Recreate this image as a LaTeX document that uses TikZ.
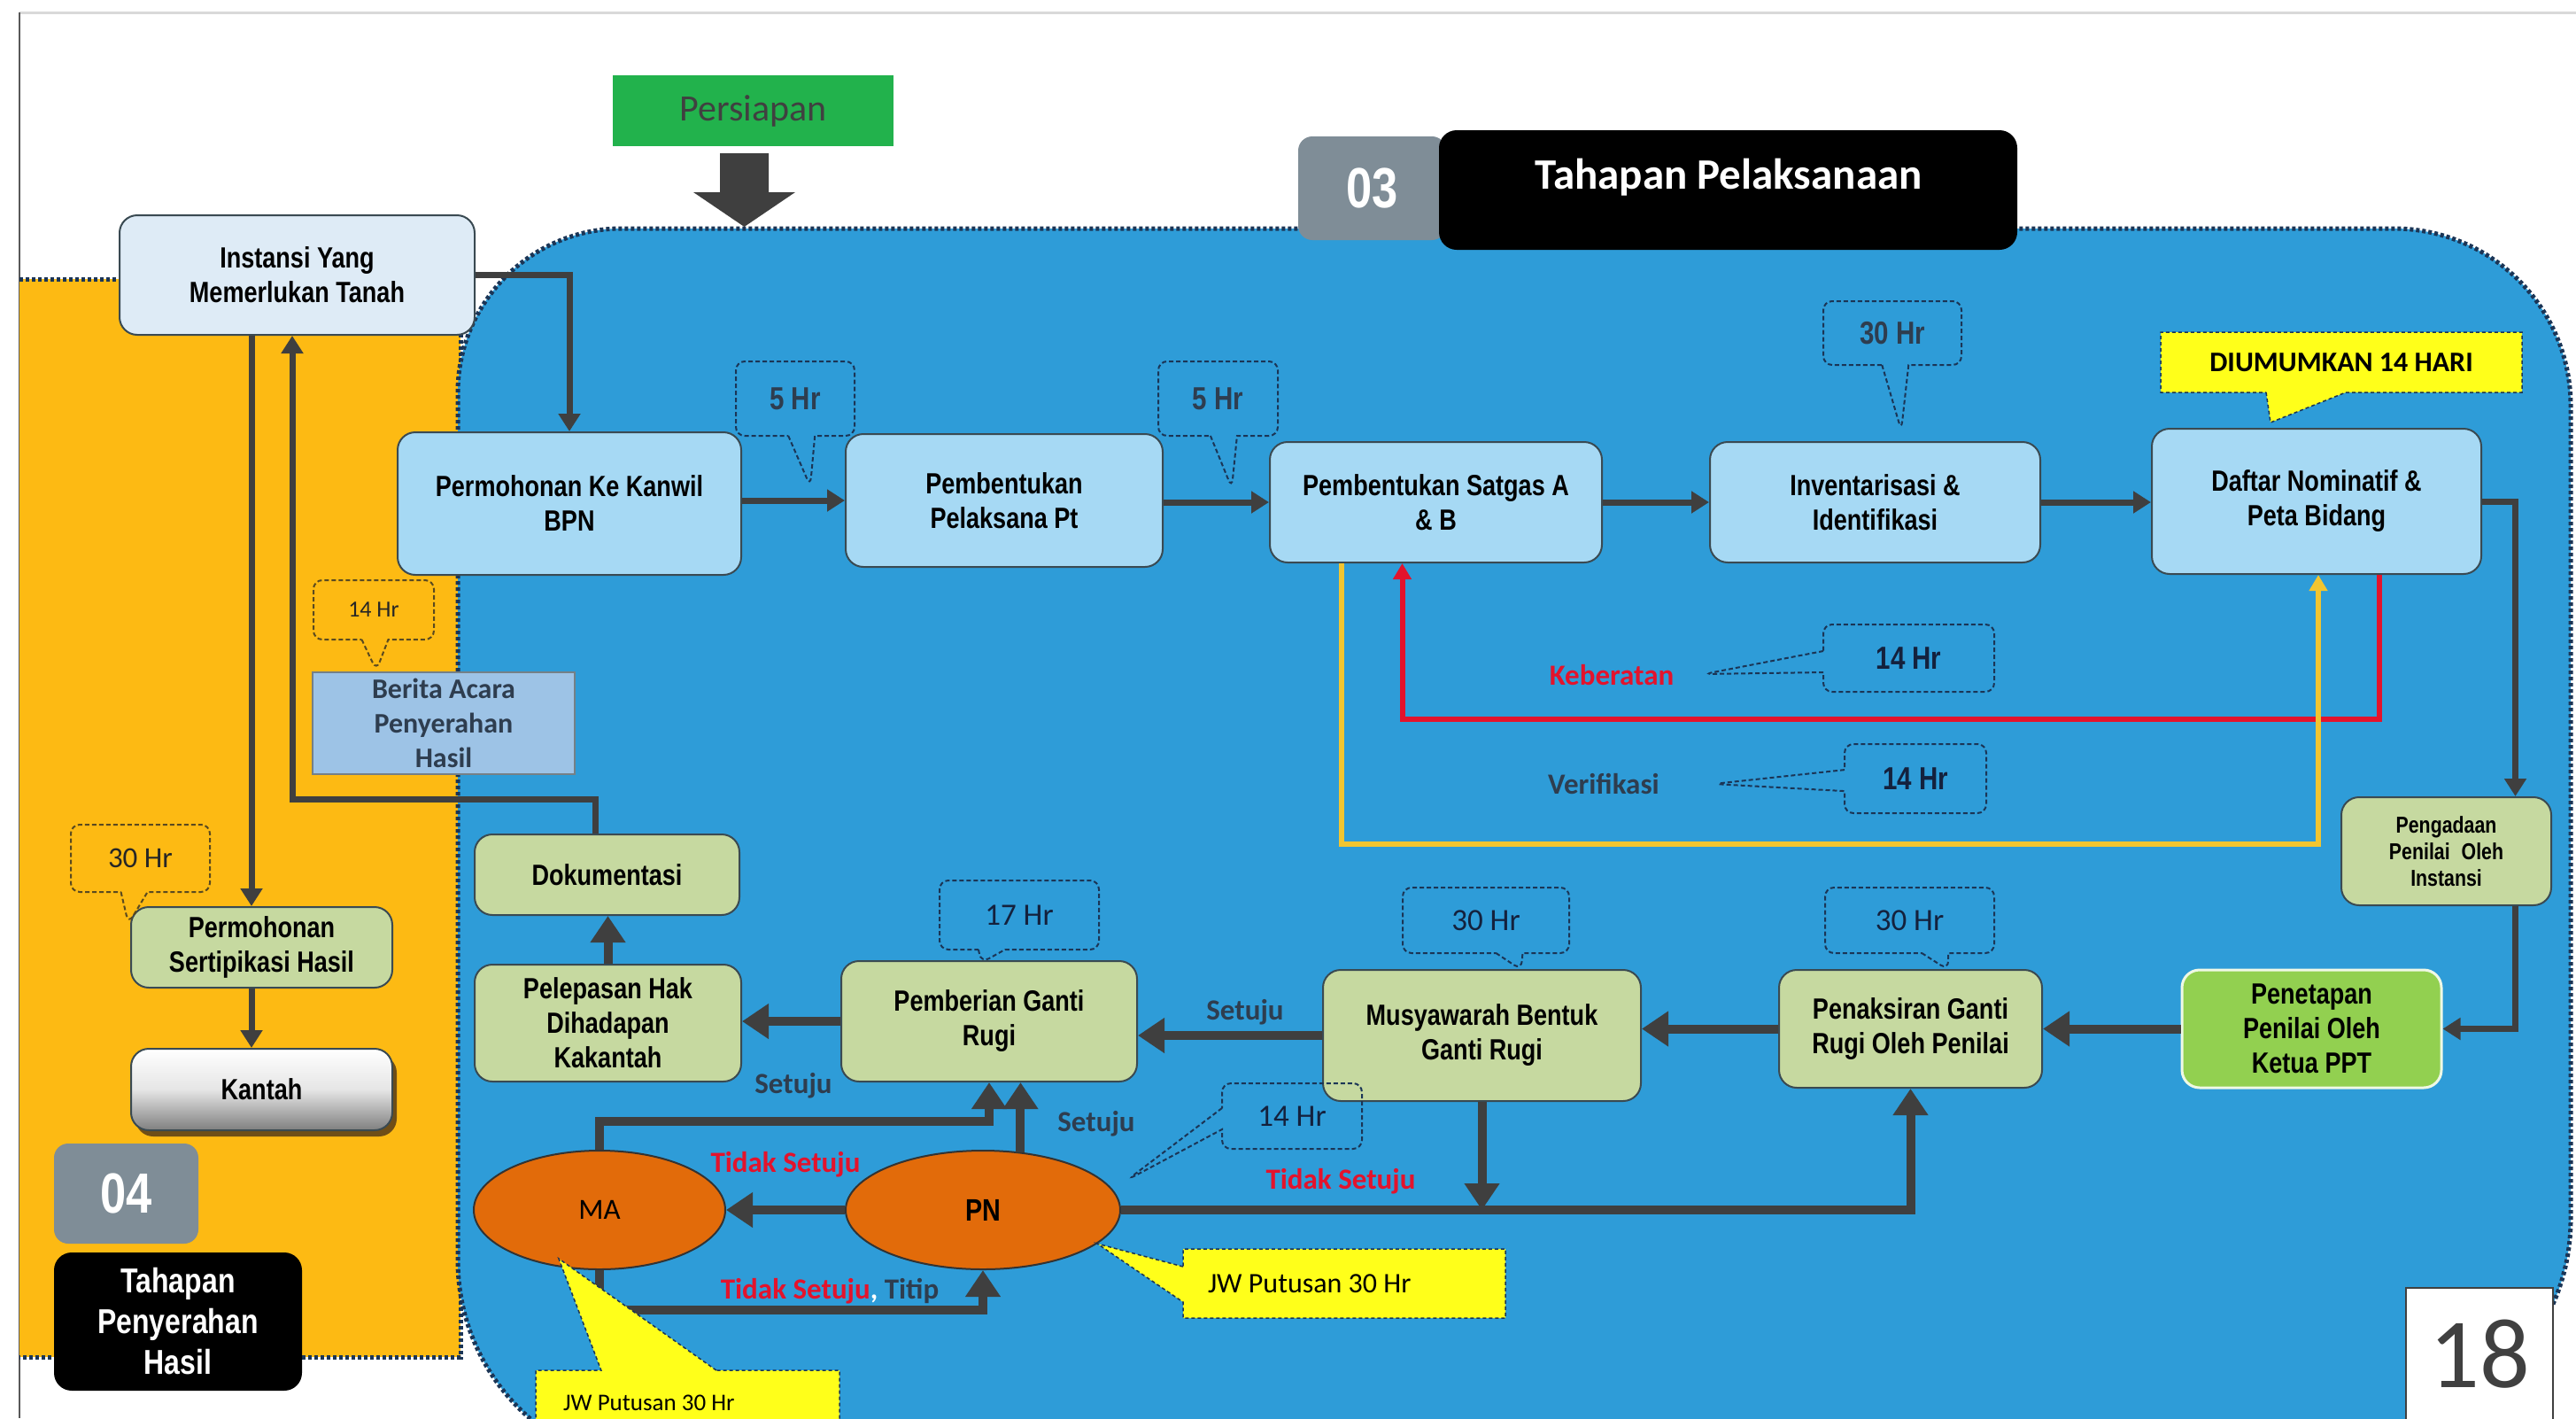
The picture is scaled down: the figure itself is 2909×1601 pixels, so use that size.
\documentclass[tikz,border=0pt]{standalone}
\usepackage{fontspec}
\setmainfont{Liberation Sans}
\newfontfamily\narrowsans{Liberation Sans}[FakeStretch=0.82]
\newfontfamily\calsans{Carlito}
\usetikzlibrary{arrows.meta,shapes.geometric,shapes.callouts,calc,shadows}

\definecolor{regionblue}{HTML}{2E9CD8}
\definecolor{regionyellow}{HTML}{FDBA13}
\definecolor{regionedge}{HTML}{1B3556}
\definecolor{skybox}{HTML}{A6D9F4}
\definecolor{paleblue}{HTML}{DEEBF6}
\definecolor{olivebox}{HTML}{C6D9A0}
\definecolor{limebox}{HTML}{92D050}
\definecolor{flowgrey}{HTML}{3F3F3F}
\definecolor{boxedge}{HTML}{3A4A52}
\definecolor{alertred}{HTML}{E3132C}
\definecolor{checkyellow}{HTML}{F2C530}
\definecolor{slatetext}{HTML}{2E3D4F}
\definecolor{navytext}{HTML}{14213D}
\definecolor{courtorange}{HTML}{E26B0A}
\definecolor{notegold}{HTML}{FFFF1A}
\definecolor{stepgrey}{HTML}{7F8D97}
\definecolor{prepgreen}{HTML}{22B24C}
\definecolor{bacblue}{HTML}{9DC3E6}
\definecolor{notebrown}{HTML}{5A4A20}

\begin{document}
\begin{tikzpicture}[x=1pt,y=-1pt,
  box/.style={draw=boxedge, line width=2pt, rounded corners=20pt, align=center, inner sep=4pt,
    font=\narrowsans\bfseries\fontsize{33}{39}\selectfont, text=black},
  skyb/.style={box, fill=skybox},
  oliveb/.style={box, fill=olivebox},
  conn/.style={draw=flowgrey, line width=7pt, -{Triangle[length=20pt,width=24pt]}},
  heavy/.style={draw=flowgrey, line width=10pt, -{Triangle[length=30pt,width=38pt]}},
  loopline/.style={line width=6pt, -{Triangle[length=18pt,width=20pt]}},
  lbl/.style={font=\calsans\bfseries\fontsize{33}{38}\selectfont, inner sep=0pt},
  note/.style={rectangle callout, draw=regionedge, dash pattern=on 5pt off 3pt, line width=2pt,
    rounded corners=10pt, callout pointer width=30pt, inner sep=0pt},
  notefont/.style={font=\narrowsans\bfseries\fontsize{36}{38}\selectfont, text=slatetext},
  calnote/.style={font=\calsans\fontsize{35}{38}\selectfont, text=navytext},
  flag/.style={rectangle callout, fill=notegold, draw=regionedge, dash pattern=on 4pt off 3pt,
    line width=1.5pt, inner sep=0pt},
  stage/.style={fill=black, rounded corners=20pt, text=white, align=center},
  stepno/.style={fill=stepgrey, rounded corners=16pt, text=white,
    font=\narrowsans\bfseries\fontsize{64}{64}\selectfont},
  dotedge/.style={draw=regionedge, line width=5pt, dash pattern=on 4pt off 3pt}
]
\useasboundingbox (0,0) rectangle (2909,1601);
\fill[white] (0,0) rectangle (2909,1601);
\clip (0,0) rectangle (2909,1601);

% page frame
\draw[black!15, line width=3pt] (22,14) -- (2909,14);
\draw[black!65, line width=2pt] (22,14) -- (22,1601);

% stage 04 area
\fill[regionyellow] (22,315) rectangle (520,1532);
\draw[dotedge] (22,315) -- (520,315) -- (520,1532) -- (22,1532);

% stage 03 area
\draw[dotedge, fill=regionblue] (517,1423) -- (517,443)
  arc[start angle=180,end angle=90,radius=185pt] -- (2703,258)
  arc[start angle=90,end angle=0,radius=200pt] -- (2903,1377)
  arc[start angle=0,end angle=-90,radius=236pt] -- (753,1659)
  arc[start angle=270,end angle=180,radius=236pt] -- cycle;

% preparation banner and its arrow
\node[fill=prepgreen, minimum width=317pt, minimum height=80pt, inner sep=0pt,
  font=\calsans\fontsize{42}{42}\selectfont, text=black!75] (prep) at (850.5,125) {Persiapan};
\fill[flowgrey] (813,173) -- (868,173) -- (868,217) -- (898,217) -- (840.5,256)
  -- (783,217) -- (813,217) -- cycle;

% stage headers
\node[stepno, minimum width=167pt, minimum height=117pt] (s03) at (1549.5,212.5) {03};
\node[stage, minimum width=653pt, minimum height=135pt] (tpl) at (1951.5,214.5) {};
\node[font=\calsans\bfseries\fontsize{49}{49}\selectfont, text=white, inner sep=0pt]
  (tpltext) at (1952,200) {Tahapan Pelaksanaan};
\node[stepno, minimum width=163pt, minimum height=113pt] (s04) at (142.5,1347.5) {04};
\node[stage, minimum width=280pt, minimum height=156pt, inner sep=0pt,
  font=\narrowsans\bfseries\fontsize{39}{46}\selectfont] (tph) at (201,1492)
  {Tahapan\\Penyerahan\\Hasil};

% process boxes
\node[box, fill=paleblue, minimum width=401pt, minimum height=135pt] (inst) at (335.5,310.5)
  {Instansi Yang\\Memerlukan Tanah};
\node[skyb, minimum width=388pt, minimum height=161pt] (perm) at (643,568.5)
  {Permohonan Ke Kanwil\\BPN};
\node[skyb, minimum width=358pt, minimum height=150pt] (pelak) at (1134,565)
  {Pembentukan\\Pelaksana Pt};
\node[skyb, minimum width=375pt, minimum height=136pt] (satgas) at (1621.5,567)
  {Pembentukan Satgas A\\\& B};
\node[skyb, minimum width=373pt, minimum height=136pt] (inv) at (2117.5,567)
  {Inventarisasi \&\\Identifikasi};
\node[skyb, minimum width=372pt, minimum height=164pt] (daftar) at (2616,566)
  {Daftar Nominatif \&\\Peta Bidang};
\node[oliveb, minimum width=237pt, minimum height=122pt,
  font=\narrowsans\bfseries\fontsize{26}{30}\selectfont] (pengadaan) at (2762.5,961)
  {Pengadaan\\Penilai\enspace Oleh\\Instansi};
\node[box, fill=limebox, draw=white!85!limebox, line width=3pt, minimum width=293pt,
  minimum height=133pt] (penetapan) at (2610.5,1161.5)
  {Penetapan\\Penilai Oleh\\Ketua PPT};
\node[oliveb, minimum width=297pt, minimum height=133pt] (penaksiran) at (2157.5,1161.5)
  {Penaksiran Ganti\\Rugi Oleh Penilai};
\node[oliveb, minimum width=359pt, minimum height=148pt] (musy) at (1673.5,1169)
  {Musyawarah Bentuk\\Ganti Rugi};
\node[oliveb, minimum width=334pt, minimum height=136pt] (pemberian) at (1117,1153)
  {Pemberian Ganti\\Rugi};
\node[oliveb, minimum width=301pt, minimum height=132pt] (pelepasan) at (686.5,1155)
  {Pelepasan Hak\\Dihadapan\\Kakantah};
\node[oliveb, minimum width=299pt, minimum height=91pt] (dok) at (685.5,987.5)
  {Dokumentasi};
\node[draw=boxedge!70, line width=1.5pt, fill=bacblue, minimum width=296pt, minimum height=115pt,
  inner sep=0pt, align=center, text=slatetext,
  font=\calsans\bfseries\fontsize{32}{39}\selectfont] (berita) at (501,816.5)
  {Berita Acara\\Penyerahan\\Hasil};
\node[oliveb, minimum width=295pt, minimum height=91pt] (sert) at (295.5,1069.5)
  {Permohonan\\Sertipikasi Hasil};
\node[box, top color=white, bottom color=black!50, middle color=white!90!black,
  drop shadow={shadow xshift=5pt, shadow yshift=-7pt, fill=black!60!brown, opacity=0.8},
  minimum width=295pt, minimum height=92pt] (kantah) at (295.5,1230) {Kantah};

% courts
\node[ellipse, draw=black!80, line width=2pt, fill=courtorange, minimum width=284pt,
  minimum height=134pt, inner sep=0pt, font=\calsans\fontsize{33}{33}\selectfont]
  (ma) at (677,1366) {MA};
\node[ellipse, draw=black!80, line width=2pt, fill=courtorange, minimum width=310pt,
  minimum height=134pt, inner sep=0pt, font=\narrowsans\bfseries\fontsize{35}{35}\selectfont]
  (pn) at (1110,1366) {PN};

% page number
\node[draw=black!75, line width=2pt, fill=white, minimum width=166pt, minimum height=150pt,
  anchor=north west, inner sep=0pt, text=black!75,
  font=\calsans\fontsize{112}{112}\selectfont] (pg) at (2716,1453) {18};

% main flow
\draw[conn] (inst.east) -| (perm.north);
\draw[conn] (perm.east |- pelak.west) -- (pelak.west);
\draw[conn] (pelak.east |- satgas.west) -- (satgas.west);
\draw[conn] (satgas.east) -- (inv.west);
\draw[conn] (inv.east) -- (inv.east -| daftar.west);
\draw[conn] (daftar.east) -| ([xshift=78pt]pengadaan.north);
\draw[conn] ([xshift=78pt]pengadaan.south) |- (penetapan.east);
\draw[heavy] (penetapan.west) -- (penaksiran.east);
\draw[heavy] (penaksiran.west) -- (penaksiran.west -| musy.east);
\draw[heavy] (musy.west) -- (musy.west -| pemberian.east);
\draw[heavy] (pemberian.west) -- (pemberian.west -| pelepasan.east);
\draw[heavy] (pelepasan.north) -- (pelepasan.north |- dok.south);
\coordinate (retbend) at (330,902);
\draw[conn] ([xshift=-13pt]dok.north) |- (retbend) -- (retbend |- inst.south);
\draw[conn] ([xshift=-51.5pt]inst.south) -- ([xshift=-11.5pt]sert.north);
\draw[conn] ([xshift=-11.5pt]sert.south) -- ([xshift=-11.5pt]kantah.north);

% objection and verification loops
\draw[loopline, draw=alertred]
  ([xshift=71pt]daftar.south) |- ($(satgas.south)+(-38,176)$) -- ([xshift=-38pt]satgas.south);
\draw[loopline, draw=checkyellow]
  ([xshift=-107pt]satgas.south) |- ($(daftar.south)+(2,304)$) -- ([xshift=2pt]daftar.south);

% deliberation and court routes
\draw[heavy] (ma.north) |- ($(pemberian.south)+(0,44)$) -- (pemberian.south);
\draw[heavy] (pn.57) -- (pn.57 |- pemberian.south);
\draw[heavy] (pn.west) -- (ma.east);
\draw[heavy] (ma.south) |- ($(pn.south)+(0,45)$) -- (pn.south);
\draw[heavy] (musy.south) -- (musy.south |- pn.east);
\draw[heavy] (pn.east) -| (penaksiran.south);

% route labels
\node[lbl, text=alertred] (lkeb) at (1820,762) {Keberatan};
\node[lbl, text=slatetext] (lver) at (1811,885) {Verifikasi};
\node[lbl, text=slatetext] (lset1) at (1406,1143) {Setuju};
\node[lbl, text=slatetext] (lset2) at (896,1226) {Setuju};
\node[lbl, text=slatetext] (lset3) at (1238,1269) {Setuju};
\node[lbl, text=alertred] (ltid1) at (887,1315) {Tidak Setuju};
\node[lbl, text=alertred] (ltid2) at (1514,1334) {Tidak Setuju};
\node[lbl, text=slatetext] (ltitip) at (937,1458)
  {\textcolor{alertred}{Tidak Setuju}\textcolor{white}{,} Titip};

% duration notes
\coordinate (p5a) at (915,549);
\coordinate (p5b) at (1391,551);
\coordinate (p30a) at (2147,486);
\coordinate (p14k) at (1924,761);
\coordinate (p14v) at (1935,885);
\coordinate (p17) at (1108,1087);
\coordinate (p30m) at (1718,1095);
\coordinate (p30p) at (2200,1095);
\coordinate (p14p) at (1273,1332);
\coordinate (p14y) at (425,757);
\coordinate (p30y) at (145,1043);
\node[note, notefont, callout absolute pointer={(p5a)}, minimum width=134pt, minimum height=84pt]
  (n5a) at (898,450) {5 Hr};
\node[note, notefont, callout absolute pointer={(p5b)}, minimum width=135pt, minimum height=84pt]
  (n5b) at (1375.5,450) {5 Hr};
\node[note, notefont, callout absolute pointer={(p30a)}, minimum width=156pt, minimum height=72pt]
  (n30a) at (2137,376) {30 Hr};
\node[note, notefont, text=navytext, callout absolute pointer={(p14k)}, callout pointer width=24pt,
  minimum width=193pt, minimum height=76pt] (n14k) at (2155.5,743) {14 Hr};
\node[note, notefont, text=navytext, callout absolute pointer={(p14v)}, callout pointer width=24pt,
  minimum width=160pt, minimum height=78pt] (n14v) at (2163,879) {14 Hr};
\node[note, calnote, callout absolute pointer={(p17)}, minimum width=180pt, minimum height=78pt]
  (n17) at (1151,1033) {17 Hr};
\node[note, calnote, callout absolute pointer={(p30m)}, minimum width=188pt, minimum height=74pt]
  (n30m) at (1678,1039) {30 Hr};
\node[note, calnote, callout absolute pointer={(p30p)}, minimum width=191pt, minimum height=74pt]
  (n30p) at (2156.5,1039) {30 Hr};
\node[note, calnote, callout absolute pointer={(p14p)}, callout pointer width=24pt,
  minimum width=158pt, minimum height=74pt] (n14p) at (1459,1260) {14 Hr};
\node[note, draw=notebrown, font=\calsans\fontsize{26}{28}\selectfont, text=black!85,
  callout absolute pointer={(p14y)}, minimum width=136pt, minimum height=67pt]
  (n14y) at (422,688.5) {14 Hr};
\node[note, draw=notebrown, font=\calsans\fontsize{33}{34}\selectfont, text=black!85,
  callout absolute pointer={(p30y)}, minimum width=157pt, minimum height=76pt]
  (n30y) at (158.5,969) {30 Hr};

% announcement and ruling notes
\coordinate (pumum) at (2564,477);
\coordinate (pjwpn) at (1239,1404);
\coordinate (pjwma) at (631,1421);
\node[flag, callout absolute pointer={(pumum)}, callout pointer width=90pt,
  minimum width=408pt, minimum height=68pt, font=\calsans\bfseries\fontsize{32}{32}\selectfont]
  (numum) at (2644,409) {DIUMUMKAN 14 HARI};
\node[flag, callout absolute pointer={(pjwpn)}, callout pointer width=40pt,
  minimum width=364pt, minimum height=78pt, font=\calsans\fontsize{32}{32}\selectfont]
  (njwpn) at (1518,1449) {\makebox[308pt][l]{JW Putusan 30 Hr}};
\node[flag, callout absolute pointer={(pjwma)}, callout pointer width=130pt,
  minimum width=343pt, minimum height=73pt, font=\calsans\fontsize{27}{27}\selectfont]
  (njwma) at (776.5,1583.5) {\makebox[281pt][l]{JW Putusan 30 Hr}};
\end{tikzpicture}
\end{document}
